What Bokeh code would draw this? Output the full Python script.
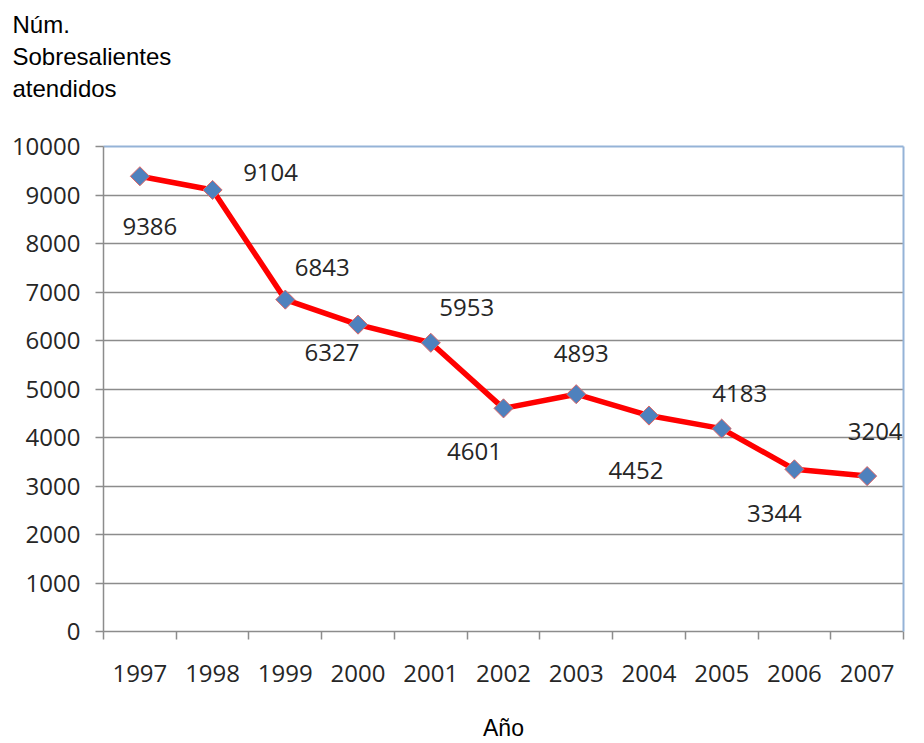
import math
from bokeh.plotting import figure
from bokeh.models import (ColumnDataSource, FixedTicker, LinearAxis, LabelSet, Range1d)
from bokeh.core.properties import value
from bokeh.embed import file_html
from bokeh.resources import INLINE

# ---- data ----
years = ["1997", "1998", "1999", "2000", "2001", "2002", "2003", "2004", "2005", "2006", "2007"]
attended = [9386, 9104, 6843, 6327, 5953, 4601, 4893, 4452, 4183, 3344, 3204]
y_ticks = [0, 1000, 2000, 3000, 4000, 5000, 6000, 7000, 8000, 9000, 10000]
title_lines = ["Núm.", "Sobresalientes", "atendidos"]
x_title = "Año"

# label placement (screen pixel offsets from each point, +dy = downwards; style only)
lab_dx = [10, 58, 37, -26, 36, -29, 5, -13, 18, -20, 8]
lab_dy = [50, -17, -32, 28, -35, 43, -41, 55, -35, 44, -45]

pos = list(range(1, len(years) + 1))
src = ColumnDataSource(dict(x=pos, y=attended, txt=[str(v) for v in attended],
                            dx=lab_dx, dy=[-d for d in lab_dy]))

W, H = 924, 743
FL, FT, FR, FB = 103, 145, 21, 111  # frame borders
# a trailing blank line keeps the title block up at the top of the canvas
title_text = "\n".join(title_lines + ["\u00a0"])
p = figure(width=W, height=H, output_backend="svg", toolbar_location=None,
           x_range=Range1d(0.5, len(years) + 0.5), y_range=Range1d(0, 10000),
           min_border_left=FL, min_border_right=FR, min_border_top=FT,
           min_border_bottom=FB, x_axis_location=None, y_axis_location=None,
           title=title_text)
p.outline_line_color = None
p.background_fill_color = "white"
p.border_fill_color = "white"

p.title.text_font = "Liberation Sans"
p.title.text_font_size = "24px"
p.title.text_font_style = "normal"
p.title.text_color = "#000000"
p.title.text_line_height = 1.2
p.title.align = "left"
p.title.vertical_align = "top"
p.title.offset = 12 - FL
p.title.standoff = 20

grid_col = "#8C8C8C"
blue_edge = "#95B3D7"
num_font = "Open Sans"
num_size = "24px"
txt_col = "#262626"

# axes
xaxis = LinearAxis(ticker=FixedTicker(ticks=pos, minor_ticks=[i + 0.5 for i in range(0, len(years) + 1)]))
xaxis.major_label_overrides = {i + 1: y for i, y in enumerate(years)}
xaxis.major_tick_out = 0
xaxis.major_tick_in = 0
xaxis.minor_tick_out = 8
xaxis.minor_tick_in = 0
xaxis.minor_tick_line_color = grid_col
xaxis.minor_tick_line_width = 1.5
xaxis.axis_line_color = grid_col
xaxis.axis_line_width = 1.5
xaxis.major_label_text_font = num_font
xaxis.major_label_text_font_size = num_size
xaxis.major_label_text_color = txt_col
xaxis.major_label_standoff = 25
xaxis.axis_label = x_title
xaxis.axis_label_text_font = "Liberation Sans"
xaxis.axis_label_text_font_size = "23px"
xaxis.axis_label_text_font_style = "normal"
xaxis.axis_label_text_color = "#000000"
xaxis.axis_label_standoff = 30
p.add_layout(xaxis, "below")

yaxis = LinearAxis(ticker=FixedTicker(ticks=y_ticks))
yaxis.major_tick_out = 8
yaxis.major_tick_in = 0
yaxis.minor_tick_line_color = None
yaxis.major_tick_line_color = grid_col
yaxis.major_tick_line_width = 1.5
yaxis.axis_line_color = grid_col
yaxis.axis_line_width = 1.5
yaxis.major_label_text_font = num_font
yaxis.major_label_text_font_size = num_size
yaxis.major_label_text_color = txt_col
yaxis.major_label_standoff = 15
p.add_layout(yaxis, "left")

for loc in ("above", "right"):
    ax = LinearAxis(ticker=FixedTicker(ticks=[]))
    ax.major_label_text_font_size = "0px"
    ax.major_tick_line_color = None
    ax.minor_tick_line_color = None
    ax.major_tick_out = 0
    ax.minor_tick_out = 0
    ax.major_label_standoff = 0
    ax.axis_line_color = blue_edge
    ax.axis_line_width = 2
    p.add_layout(ax, loc)

p.xgrid.visible = False
p.ygrid.ticker = FixedTicker(ticks=y_ticks[1:-1])
p.ygrid.grid_line_color = grid_col
p.ygrid.grid_line_width = 1.5

p.line("x", "y", source=src, line_color="#FF0000", line_width=5.5)
p.scatter("x", "y", source=src, marker="square", angle=math.pi / 4, size=13.5,
          fill_color="#4F81BD", line_color="#E06666", line_width=1)
p.add_layout(LabelSet(x="x", y="y", text="txt", source=src, x_offset="dx", y_offset="dy",
                      text_align="center", text_baseline="middle", text_font=value(num_font),
                      text_font_size=num_size, text_color=txt_col))

open("out.html", "w").write(file_html(p, INLINE))
